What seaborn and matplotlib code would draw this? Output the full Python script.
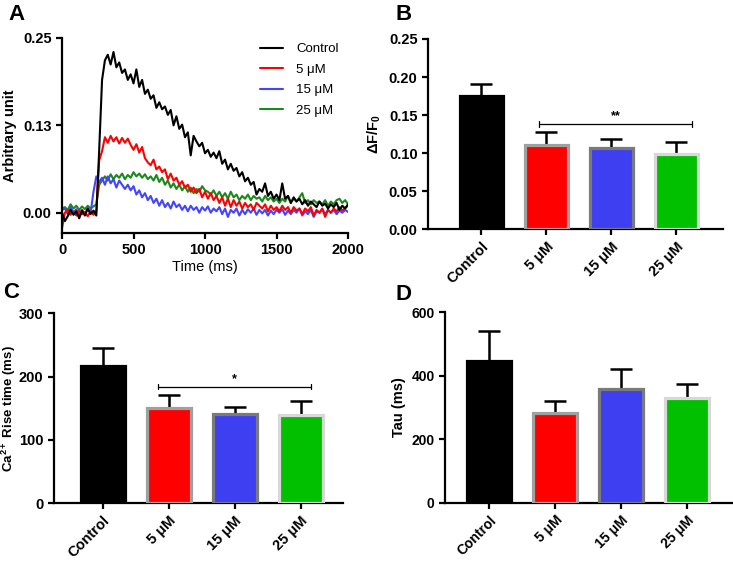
import matplotlib
matplotlib.use("Agg")
import matplotlib.pyplot as plt
import seaborn as sns
import pandas as pd
import numpy as np

# Datos del trazo de calcio (panel A), muestreado cada 20 ms
tiempo = list(range(0, 2001, 20))
control = [0.000, -0.012, -0.005, 0.004, -0.003, 0.002, -0.008, 0.003, -0.004, 0.006,
           -0.002, 0.003, -0.004, 0.090, 0.190, 0.218, 0.226, 0.212, 0.230, 0.208,
           0.215, 0.200, 0.205, 0.190, 0.198, 0.185, 0.205, 0.180, 0.190, 0.170,
           0.176, 0.163, 0.168, 0.150, 0.158, 0.148, 0.152, 0.140, 0.147, 0.125,
           0.138, 0.120, 0.126, 0.108, 0.115, 0.082, 0.110, 0.102, 0.095, 0.100,
           0.085, 0.090, 0.080, 0.086, 0.078, 0.088, 0.070, 0.076, 0.062, 0.070,
           0.060, 0.064, 0.052, 0.058, 0.045, 0.050, 0.040, 0.044, 0.026, 0.034,
           0.030, 0.042, 0.024, 0.030, 0.020, 0.026, 0.018, 0.042, 0.020, 0.024,
           0.014, 0.022, 0.016, 0.020, 0.012, 0.018, 0.010, 0.016, 0.012, 0.008,
           0.016, 0.010, 0.013, 0.006, 0.012, 0.008, 0.014, 0.004, 0.010, 0.006,
           0.012]
uM5 = [-0.022, 0.000, 0.004, -0.003, 0.002, -0.004, 0.003, -0.002, 0.001, -0.005,
       0.002, -0.003, 0.004, 0.075, 0.088, 0.108, 0.100, 0.110, 0.102, 0.108,
       0.099, 0.107, 0.100, 0.106, 0.097, 0.090, 0.098, 0.086, 0.094, 0.078,
       0.072, 0.068, 0.076, 0.062, 0.066, 0.058, 0.062, 0.048, 0.056, 0.046,
       0.050, 0.040, 0.045, 0.036, 0.040, 0.030, 0.036, 0.028, 0.034, 0.022,
       0.030, 0.020, 0.028, 0.018, 0.024, 0.014, 0.022, 0.010, 0.020, 0.008,
       0.018, 0.010, 0.016, 0.006, 0.014, 0.008, 0.012, 0.004, 0.014, 0.010,
       0.006, 0.012, 0.002, 0.010, 0.004, 0.008, 0.002, 0.010, 0.004, 0.008,
       0.000, 0.008, 0.003, 0.006, -0.002, 0.006, 0.002, 0.008, -0.004, 0.004,
       0.000, 0.006, -0.006, 0.004, 0.000, 0.006, 0.002, 0.008, 0.003, 0.007,
       0.010]
uM15 = [0.004, 0.006, -0.002, 0.008, 0.000, 0.005, -0.003, 0.004, -0.002, 0.006,
        0.000, 0.030, 0.052, 0.044, 0.050, 0.040, 0.052, 0.042, 0.048, 0.036,
        0.046, 0.040, 0.034, 0.040, 0.032, 0.038, 0.026, 0.032, 0.022, 0.028,
        0.018, 0.024, 0.014, 0.020, 0.010, 0.018, 0.008, 0.014, 0.006, 0.016,
        0.008, 0.012, 0.004, 0.010, 0.002, 0.010, 0.004, 0.008, 0.000, 0.008,
        0.003, 0.009, 0.000, 0.006, 0.002, 0.008, -0.002, 0.006, -0.006, 0.004,
        0.000, 0.006, -0.004, 0.004, -0.002, 0.005, 0.000, 0.006, -0.003, 0.004,
        -0.001, 0.004, -0.004, 0.003, -0.002, 0.004, 0.000, 0.005, -0.003, 0.003,
        -0.002, 0.004, 0.000, 0.006, -0.004, 0.002, -0.002, 0.004, -0.006, 0.002,
        0.000, 0.005, -0.002, 0.004, 0.000, 0.004, -0.002, 0.003, 0.000, 0.004,
        0.001]
uM25 = [0.006, 0.008, 0.004, 0.012, 0.006, 0.010, 0.004, 0.009, 0.005, 0.010,
        0.006, 0.009, 0.012, 0.040, 0.046, 0.052, 0.046, 0.055, 0.048, 0.054,
        0.050, 0.056, 0.048, 0.054, 0.050, 0.058, 0.052, 0.056, 0.050, 0.055,
        0.048, 0.052, 0.046, 0.054, 0.044, 0.050, 0.040, 0.046, 0.036, 0.042,
        0.034, 0.040, 0.032, 0.038, 0.030, 0.036, 0.028, 0.034, 0.030, 0.038,
        0.032, 0.030, 0.026, 0.032, 0.024, 0.030, 0.022, 0.028, 0.020, 0.030,
        0.022, 0.026, 0.018, 0.024, 0.020, 0.026, 0.018, 0.024, 0.020, 0.022,
        0.016, 0.024, 0.018, 0.022, 0.016, 0.020, 0.014, 0.020, 0.016, 0.024,
        0.014, 0.020, 0.016, 0.022, 0.028, 0.014, 0.018, 0.012, 0.018, 0.014,
        0.016, 0.012, 0.018, 0.010, 0.016, 0.012, 0.018, 0.020, 0.014, 0.018,
        0.012]

# Datos de las barras (media y error estandar)
grupos = ["Control", "5 μM", "15 μM", "25 μM"]
df_f0 = [0.175, 0.111, 0.107, 0.099]
df_f0_err = [0.016, 0.017, 0.011, 0.016]
subida = [217, 151, 141, 140]
subida_err = [28, 20, 11, 22]
tau = [447, 282, 359, 330]
tau_err = [93, 38, 61, 44]

colores_linea = ["black", "#ff0000", "#4444ff", "#1a8a1a"]
colores_barra = ["black", "#ff0000", "#3f3ff2", "#00c000"]
bordes_barra = ["black", "#a0a0a0", "#7a7a7a", "#d8d8d8"]

sns.set_style("ticks")
plt.rcParams["font.family"] = ["Liberation Sans", "DejaVu Sans"]
plt.rcParams["mathtext.fontset"] = "custom"
plt.rcParams["mathtext.rm"] = "Liberation Sans:bold"
plt.rcParams["mathtext.it"] = "Liberation Sans:bold"
plt.rcParams["mathtext.bf"] = "Liberation Sans:bold"
for k in ["text.color", "axes.labelcolor", "xtick.color", "ytick.color", "axes.edgecolor"]:
    plt.rcParams[k] = "black"
plt.rcParams["axes.linewidth"] = 1.6
plt.rcParams["xtick.major.width"] = 1.6
plt.rcParams["ytick.major.width"] = 1.6
plt.rcParams["xtick.major.size"] = 4
plt.rcParams["ytick.major.size"] = 4

fig = plt.figure(figsize=(7.33, 5.61), dpi=100)
axA = fig.add_axes([0.0846, 0.5847, 0.3902, 0.3476])
axB = fig.add_axes([0.5839, 0.5913, 0.4025, 0.3392])
axC = fig.add_axes([0.0737, 0.1028, 0.3943, 0.3387])
axD = fig.add_axes([0.6071, 0.1040, 0.3911, 0.3393])

# Panel A: trazos
df = pd.DataFrame({
    "t": tiempo * 4,
    "v": control + uM5 + uM15 + uM25,
    "grupo": ["Control"] * len(tiempo) + ["5 μM"] * len(tiempo)
             + ["15 μM"] * len(tiempo) + ["25 μM"] * len(tiempo),
})
# dibujar control al final para que quede encima
orden = ["25 μM", "15 μM", "5 μM", "Control"]
pal = dict(zip(grupos, colores_linea))
for g in orden:
    sns.lineplot(data=df[df.grupo == g], x="t", y="v", color=pal[g], linewidth=1.5,
                 estimator=None, ax=axA, label=g)
handles, labels = axA.get_legend_handles_labels()
hmap = dict(zip(labels, handles))
axA.legend([hmap[g] for g in grupos], grupos, loc="upper right", frameon=False,
           fontsize=9.5, handlelength=1.7, borderaxespad=0.0, labelspacing=0.62,
           handletextpad=1.0, bbox_to_anchor=(0.985, 1.0))
axA.set_xlim(0, 2000)
axA.set_ylim(-0.029, 0.25)
axA.set_xticks([0, 500, 1000, 1500, 2000])
axA.set_yticks([0, 0.125, 0.25])
axA.set_yticklabels(["0.00", "0.13", "0.25"])
axA.set_xlabel("Time (ms)", fontsize=10.5, labelpad=2)
axA.set_ylabel("Arbitrary unit", fontsize=10.5, fontweight="bold", labelpad=4)
for lab in axA.get_xticklabels() + axA.get_yticklabels():
    lab.set_fontweight("bold")
    lab.set_fontsize(10.5)
sns.despine(ax=axA)


def barras(ax, vals, errs, ylim, yticks, ylabels, ylabel, fs_tick, fs_lab, xlim, pad=4):
    sns.barplot(x=grupos, y=vals, hue=grupos, palette=colores_barra, legend=False,
                width=0.66, errorbar=None, saturation=1, ax=ax, zorder=3)
    for p, ec in zip(ax.patches, bordes_barra):
        p.set_edgecolor(ec)
        p.set_linewidth(2.3)
    ax.errorbar(range(len(grupos)), vals, yerr=[[0] * len(errs), errs], fmt="none",
                ecolor="black", elinewidth=1.8, capsize=8, capthick=1.8, zorder=2)
    ax.set_ylim(*ylim)
    ax.set_xlim(*xlim)
    ax.set_yticks(yticks)
    ax.set_yticklabels(ylabels, fontsize=fs_tick, fontweight="bold")
    ax.set_xticks(range(len(grupos)))
    ax.set_xticklabels(grupos, rotation=45, ha="right", rotation_mode="anchor",
                       fontsize=fs_tick, fontweight="bold")
    ax.set_ylabel(ylabel, fontsize=fs_lab, fontweight="bold", labelpad=pad)
    ax.set_xlabel("")
    sns.despine(ax=ax)


def significancia(ax, x0, x1, y, h, texto):
    ax.plot([x0, x1], [y, y], color="black", linewidth=0.9)
    ax.plot([x0, x0], [y - h, y + h], color="black", linewidth=0.9)
    ax.plot([x1, x1], [y - h, y + h], color="black", linewidth=0.9)
    ax.text((x0 + x1) / 2, y + h * 0.6, texto, ha="center", va="bottom",
            fontsize=9, fontweight="bold")


barras(axB, df_f0, df_f0_err, (0, 0.25), [0, 0.05, 0.10, 0.15, 0.20, 0.25],
       ["0.00", "0.05", "0.10", "0.15", "0.20", "0.25"], r"$\Delta$F/F$_0$",
       10.5, 10.5, (-0.82, 3.72))
significancia(axB, 0.89, 3.25, 0.138, 0.004, "**")

barras(axC, subida, subida_err, (0, 300), [0, 100, 200, 300],
       ["0", "100", "200", "300"], "Ca$^{2+}$ Rise time (ms)",
       10.5, 9.5, (-0.74, 3.64), pad=2)
axC.yaxis.set_label_coords(-0.125, 0.5)
significancia(axC, 0.83, 3.15, 184, 4, "*")

barras(axD, tau, tau_err, (0, 600), [0, 200, 400, 600],
       ["0", "200", "400", "600"], "Tau (ms)", 10, 10.5, (-0.67, 3.68))

# Letras de los paneles
fig.text(0.012, 0.975, "A", fontsize=16, fontweight="bold", va="center")
fig.text(0.540, 0.975, "B", fontsize=16, fontweight="bold", va="center")
fig.text(0.004, 0.478, "C", fontsize=16, fontweight="bold", va="center")
fig.text(0.540, 0.475, "D", fontsize=16, fontweight="bold", va="center")

fig.savefig("out.png", dpi=100)
